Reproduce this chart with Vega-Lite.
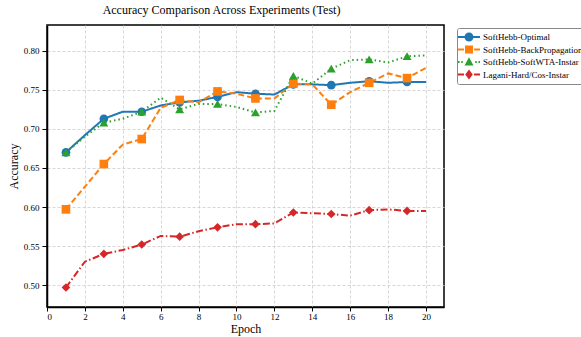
{
  "$schema": "https://vega.github.io/schema/vega-lite/v6.json",
  "width": 397,
  "height": 282,
  "autosize": "none",
  "padding": {"left": 47, "top": 25, "right": 137, "bottom": 30},
  "background": "white",
  "title": {"text": "Accuracy Comparison Across Experiments (Test)", "font": "Liberation Serif", "fontSize": 12, "fontWeight": "normal", "color": "#000000", "anchor": "middle", "dx": -24, "offset": 8},
  "data": {"values": [
    {"series": "SoftHebb-Optimal", "epoch": 1, "acc": 0.670},
    {"series": "SoftHebb-Optimal", "epoch": 2, "acc": 0.692},
    {"series": "SoftHebb-Optimal", "epoch": 3, "acc": 0.713},
    {"series": "SoftHebb-Optimal", "epoch": 4, "acc": 0.722},
    {"series": "SoftHebb-Optimal", "epoch": 5, "acc": 0.722},
    {"series": "SoftHebb-Optimal", "epoch": 6, "acc": 0.730},
    {"series": "SoftHebb-Optimal", "epoch": 7, "acc": 0.734},
    {"series": "SoftHebb-Optimal", "epoch": 8, "acc": 0.736},
    {"series": "SoftHebb-Optimal", "epoch": 9, "acc": 0.741},
    {"series": "SoftHebb-Optimal", "epoch": 10, "acc": 0.747},
    {"series": "SoftHebb-Optimal", "epoch": 11, "acc": 0.745},
    {"series": "SoftHebb-Optimal", "epoch": 12, "acc": 0.744},
    {"series": "SoftHebb-Optimal", "epoch": 13, "acc": 0.757},
    {"series": "SoftHebb-Optimal", "epoch": 14, "acc": 0.757},
    {"series": "SoftHebb-Optimal", "epoch": 15, "acc": 0.756},
    {"series": "SoftHebb-Optimal", "epoch": 16, "acc": 0.759},
    {"series": "SoftHebb-Optimal", "epoch": 17, "acc": 0.761},
    {"series": "SoftHebb-Optimal", "epoch": 18, "acc": 0.759},
    {"series": "SoftHebb-Optimal", "epoch": 19, "acc": 0.760},
    {"series": "SoftHebb-Optimal", "epoch": 20, "acc": 0.760},
    {"series": "SoftHebb-BackPropagation", "epoch": 1, "acc": 0.597},
    {"series": "SoftHebb-BackPropagation", "epoch": 2, "acc": 0.626},
    {"series": "SoftHebb-BackPropagation", "epoch": 3, "acc": 0.655},
    {"series": "SoftHebb-BackPropagation", "epoch": 4, "acc": 0.680},
    {"series": "SoftHebb-BackPropagation", "epoch": 5, "acc": 0.687},
    {"series": "SoftHebb-BackPropagation", "epoch": 6, "acc": 0.727},
    {"series": "SoftHebb-BackPropagation", "epoch": 7, "acc": 0.737},
    {"series": "SoftHebb-BackPropagation", "epoch": 8, "acc": 0.734},
    {"series": "SoftHebb-BackPropagation", "epoch": 9, "acc": 0.748},
    {"series": "SoftHebb-BackPropagation", "epoch": 10, "acc": 0.745},
    {"series": "SoftHebb-BackPropagation", "epoch": 11, "acc": 0.739},
    {"series": "SoftHebb-BackPropagation", "epoch": 12, "acc": 0.739},
    {"series": "SoftHebb-BackPropagation", "epoch": 13, "acc": 0.758},
    {"series": "SoftHebb-BackPropagation", "epoch": 14, "acc": 0.757},
    {"series": "SoftHebb-BackPropagation", "epoch": 15, "acc": 0.731},
    {"series": "SoftHebb-BackPropagation", "epoch": 16, "acc": 0.747},
    {"series": "SoftHebb-BackPropagation", "epoch": 17, "acc": 0.759},
    {"series": "SoftHebb-BackPropagation", "epoch": 18, "acc": 0.771},
    {"series": "SoftHebb-BackPropagation", "epoch": 19, "acc": 0.765},
    {"series": "SoftHebb-BackPropagation", "epoch": 20, "acc": 0.778},
    {"series": "SoftHebb-SoftWTA-Instar", "epoch": 1, "acc": 0.670},
    {"series": "SoftHebb-SoftWTA-Instar", "epoch": 2, "acc": 0.690},
    {"series": "SoftHebb-SoftWTA-Instar", "epoch": 3, "acc": 0.708},
    {"series": "SoftHebb-SoftWTA-Instar", "epoch": 4, "acc": 0.713},
    {"series": "SoftHebb-SoftWTA-Instar", "epoch": 5, "acc": 0.722},
    {"series": "SoftHebb-SoftWTA-Instar", "epoch": 6, "acc": 0.740},
    {"series": "SoftHebb-SoftWTA-Instar", "epoch": 7, "acc": 0.725},
    {"series": "SoftHebb-SoftWTA-Instar", "epoch": 8, "acc": 0.732},
    {"series": "SoftHebb-SoftWTA-Instar", "epoch": 9, "acc": 0.732},
    {"series": "SoftHebb-SoftWTA-Instar", "epoch": 10, "acc": 0.728},
    {"series": "SoftHebb-SoftWTA-Instar", "epoch": 11, "acc": 0.721},
    {"series": "SoftHebb-SoftWTA-Instar", "epoch": 12, "acc": 0.723},
    {"series": "SoftHebb-SoftWTA-Instar", "epoch": 13, "acc": 0.768},
    {"series": "SoftHebb-SoftWTA-Instar", "epoch": 14, "acc": 0.758},
    {"series": "SoftHebb-SoftWTA-Instar", "epoch": 15, "acc": 0.777},
    {"series": "SoftHebb-SoftWTA-Instar", "epoch": 16, "acc": 0.788},
    {"series": "SoftHebb-SoftWTA-Instar", "epoch": 17, "acc": 0.789},
    {"series": "SoftHebb-SoftWTA-Instar", "epoch": 18, "acc": 0.785},
    {"series": "SoftHebb-SoftWTA-Instar", "epoch": 19, "acc": 0.793},
    {"series": "SoftHebb-SoftWTA-Instar", "epoch": 20, "acc": 0.794},
    {"series": "Lagani-Hard/Cos-Instar", "epoch": 1, "acc": 0.497},
    {"series": "Lagani-Hard/Cos-Instar", "epoch": 2, "acc": 0.530},
    {"series": "Lagani-Hard/Cos-Instar", "epoch": 3, "acc": 0.540},
    {"series": "Lagani-Hard/Cos-Instar", "epoch": 4, "acc": 0.545},
    {"series": "Lagani-Hard/Cos-Instar", "epoch": 5, "acc": 0.552},
    {"series": "Lagani-Hard/Cos-Instar", "epoch": 6, "acc": 0.563},
    {"series": "Lagani-Hard/Cos-Instar", "epoch": 7, "acc": 0.562},
    {"series": "Lagani-Hard/Cos-Instar", "epoch": 8, "acc": 0.569},
    {"series": "Lagani-Hard/Cos-Instar", "epoch": 9, "acc": 0.574},
    {"series": "Lagani-Hard/Cos-Instar", "epoch": 10, "acc": 0.578},
    {"series": "Lagani-Hard/Cos-Instar", "epoch": 11, "acc": 0.578},
    {"series": "Lagani-Hard/Cos-Instar", "epoch": 12, "acc": 0.579},
    {"series": "Lagani-Hard/Cos-Instar", "epoch": 13, "acc": 0.593},
    {"series": "Lagani-Hard/Cos-Instar", "epoch": 14, "acc": 0.592},
    {"series": "Lagani-Hard/Cos-Instar", "epoch": 15, "acc": 0.591},
    {"series": "Lagani-Hard/Cos-Instar", "epoch": 16, "acc": 0.589},
    {"series": "Lagani-Hard/Cos-Instar", "epoch": 17, "acc": 0.596},
    {"series": "Lagani-Hard/Cos-Instar", "epoch": 18, "acc": 0.597},
    {"series": "Lagani-Hard/Cos-Instar", "epoch": 19, "acc": 0.595},
    {"series": "Lagani-Hard/Cos-Instar", "epoch": 20, "acc": 0.595}
  ]},
  "encoding": {
    "x": {"field": "epoch", "type": "quantitative",
      "scale": {"domain": [0, 20.95], "nice": false, "zero": false},
      "axis": {"values": [0, 2, 4, 6, 8, 10, 12, 14, 16, 18, 20], "title": "Epoch"}},
    "y": {"field": "acc", "type": "quantitative",
      "scale": {"domain": [0.472, 0.833], "nice": false, "zero": false},
      "axis": {"values": [0.5, 0.55, 0.6, 0.65, 0.7, 0.75, 0.8], "format": ".2f", "title": "Accuracy"}},
    "color": {"field": "series", "type": "nominal",
      "scale": {"domain": ["SoftHebb-Optimal", "SoftHebb-BackPropagation", "SoftHebb-SoftWTA-Instar", "Lagani-Hard/Cos-Instar"],
        "range": ["#1f77b4", "#ff7f0e", "#2ca02c", "#d62728"]},
      "legend": {"title": null, "orient": "none", "legendX": 410, "legendY": 3}}
  },
  "layer": [
    {"transform": [{"filter": "datum.epoch < 0"}],
     "mark": {"type": "point", "filled": true, "opacity": 1},
     "encoding": {
       "shape": {"field": "series", "type": "nominal",
         "scale": {"domain": ["SoftHebb-Optimal", "SoftHebb-BackPropagation", "SoftHebb-SoftWTA-Instar", "Lagani-Hard/Cos-Instar"],
           "range": [
             "M0.9,0A0.9,0.9 0 1,1 -0.9,0A0.9,0.9 0 1,1 0.9,0Z M-2.2,-0.2H-0.85V0.2H-2.2Z M0.85,-0.2H2.2V0.2H0.85Z",
             "M-0.8,-0.8H0.8V0.8H-0.8Z M-2.2,-0.2H-1.0V0.2H-2.2Z M1.0,-0.2H2.2V0.2H1.0Z",
             "M0,-0.95L0.9,0.7H-0.9Z M-2.2,-0.2H-1.9V0.2H-2.2Z M-1.55,-0.2H-1.25V0.2H-1.55Z M1.25,-0.2H1.55V0.2H1.25Z M1.9,-0.2H2.2V0.2H1.9Z",
             "M0,-1L0.75,0L0,1L-0.75,0Z M-2.2,-0.2H-1.0V0.2H-2.2Z M1.0,-0.2H2.2V0.2H1.0Z"]},
         "legend": {"title": null, "orient": "none", "legendX": 410, "legendY": 3}}}},
    {"mark": {"type": "line", "strokeWidth": 2},
     "encoding": {
       "strokeDash": {"field": "series", "type": "nominal",
         "scale": {"domain": ["SoftHebb-Optimal", "SoftHebb-BackPropagation", "SoftHebb-SoftWTA-Instar", "Lagani-Hard/Cos-Instar"],
           "range": [[1, 0], [6, 3], [1.5, 3], [7, 2.5, 1.5, 2.5]]},
         "legend": null}}},
    {"transform": [{"filter": "datum.series == 'SoftHebb-Optimal' && datum.epoch % 2 == 1"}],
     "mark": {"type": "point", "filled": true, "size": 75, "opacity": 1, "shape": "circle"}},
    {"transform": [{"filter": "datum.series == 'SoftHebb-BackPropagation' && datum.epoch % 2 == 1"}],
     "mark": {"type": "point", "filled": true, "size": 75, "opacity": 1, "shape": "square"}},
    {"transform": [{"filter": "datum.series == 'SoftHebb-SoftWTA-Instar' && datum.epoch % 2 == 1"}],
     "mark": {"type": "point", "filled": true, "size": 80, "opacity": 1, "shape": "triangle-up"}},
    {"transform": [{"filter": "datum.series == 'Lagani-Hard/Cos-Instar' && datum.epoch % 2 == 1"}],
     "mark": {"type": "point", "filled": true, "size": 75, "opacity": 1, "shape": "diamond"}}
  ],
  "config": {
    "view": {"stroke": "#000000", "strokeWidth": 1.5},
    "axis": {"labelFont": "Liberation Serif", "labelFontSize": 9, "titleFont": "Liberation Serif", "titleFontSize": 12,
      "titleFontWeight": "normal", "labelColor": "#000000", "titleColor": "#000000", "tickColor": "#000000",
      "domainColor": "#000000", "domainWidth": 1.5, "tickSize": 5, "tickWidth": 1, "gridColor": "#cccccc",
      "gridDash": [3, 2], "gridWidth": 0.8, "labelPadding": 3},
    "axisX": {"titlePadding": 2, "labelPadding": 1, "tickSize": 4},
    "axisY": {"titlePadding": 3},
    "legend": {"labelFont": "Liberation Serif", "labelFontSize": 9, "labelColor": "#000000", "strokeColor": "#888888",
      "fillColor": "#ffffff", "padding": 4, "cornerRadius": 2, "rowPadding": 2.5, "symbolSize": 100,
      "symbolOffset": 3, "labelOffset": 9, "labelLimit": 200, "symbolStrokeWidth": 0}
  }
}
